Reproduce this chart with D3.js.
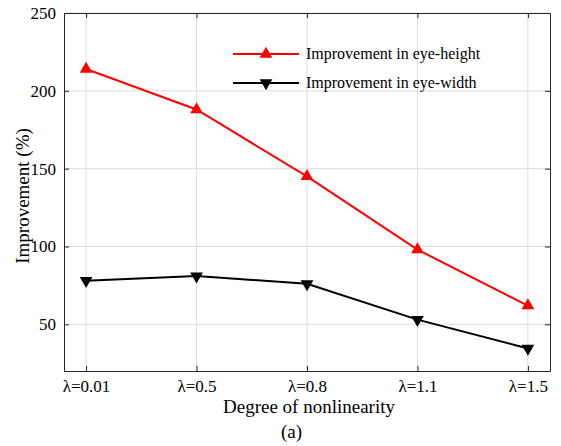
<!DOCTYPE html>
<html lang="en">
<head>
    <meta charset="UTF-8">
    <style>
        html, body { margin:0; height:100%; overflow:hidden; background:#fff; }
        svg { position:absolute; top:0; left:0; }
        text { font-family: "Liberation Serif", "Times New Roman", serif; fill:#000; }
    </style>
    <script src="https://d3js.org/d3.v7.min.js"></script>
</head>
<body>
<svg width="561" height="446"></svg>
<script>
    // chart values
    var categories = ["λ=0.01", "λ=0.5", "λ=0.8", "λ=1.1", "λ=1.5"];
    var eyeHeight = [214, 188, 145, 98, 62];
    var eyeWidth = [78, 81, 76, 53, 34.5];
    var yTicks = [50, 100, 150, 200, 250];
    var seriesNames = ["Improvement in eye-height", "Improvement in eye-width"];

    var svg = d3.select("svg");
    var margin = {top: 13, right: 11, bottom: 75, left: 64};
    var width = 561 - margin.left - margin.right;
    var height = 446 - margin.top - margin.bottom;

    var g = svg.append("g")
        .attr("transform", "translate(" + margin.left + "," + margin.top + ")");

    var x = d3.scalePoint().domain(categories).range([0, width]).padding(0.2);
    var y = d3.scaleLinear().domain([20, 250]).range([height, 0]);

    // grid
    g.append("g").selectAll("line").data(categories).enter().append("line")
        .attr("x1", function(d) { return x(d); }).attr("x2", function(d) { return x(d); })
        .attr("y1", 0).attr("y2", height)
        .attr("stroke", "#dcdcdc").attr("stroke-width", 1);
    g.append("g").selectAll("line").data(yTicks).enter().append("line")
        .attr("x1", 0).attr("x2", width)
        .attr("y1", function(d) { return y(d); }).attr("y2", function(d) { return y(d); })
        .attr("stroke", "#dcdcdc").attr("stroke-width", 1);

    // axes (inward ticks, boxed)
    function styleAxis(sel) {
        sel.attr("font-family", null);
        sel.select(".domain").attr("stroke", "#262626");
        sel.selectAll(".tick line").attr("stroke", "#262626");
        sel.selectAll("text").style("font-size", "17px").attr("fill", "#000");
    }

    g.append("g").attr("transform", "translate(0," + height + ")")
        .call(d3.axisBottom(x).tickSizeInner(-5).tickSizeOuter(0).tickPadding(9))
        .call(styleAxis);
    g.append("g")
        .call(d3.axisLeft(y).tickValues(yTicks).tickSizeInner(-5).tickSizeOuter(0).tickPadding(8))
        .call(styleAxis);
    g.append("g")
        .call(d3.axisTop(x).tickSizeInner(-5).tickSizeOuter(0).tickFormat(""))
        .call(styleAxis);
    g.append("g").attr("transform", "translate(" + width + ",0)")
        .call(d3.axisRight(y).tickValues(yTicks).tickSizeInner(-5).tickSizeOuter(0).tickFormat(""))
        .call(styleAxis);

    var line = d3.line()
        .x(function(d, i) { return x(categories[i]); })
        .y(function(d) { return y(d); });

    var up = d3.symbol().type(d3.symbolTriangle).size(70);

    function drawSeries(values, color, rot) {
        g.append("path").datum(values)
            .attr("fill", "none").attr("stroke", color).attr("stroke-width", 2)
            .attr("d", line);
        g.selectAll(null).data(values).enter().append("path")
            .attr("d", up)
            .attr("fill", color)
            .attr("transform", function(d, i) {
                return "translate(" + x(categories[i]) + "," + y(d) + ") rotate(" + rot + ")";
            });
    }

    drawSeries(eyeHeight, "#ff0000", 0);
    drawSeries(eyeWidth, "#000000", 180);

    // legend
    var legend = g.append("g").attr("transform", "translate(169,41)");
    var legendColors = ["#ff0000", "#000000"];
    seriesNames.forEach(function(name, i) {
        var row = legend.append("g").attr("transform", "translate(0," + (i * 29) + ")");
        row.append("line").attr("x1", 0).attr("x2", 66).attr("y1", 0).attr("y2", 0)
            .attr("stroke", legendColors[i]).attr("stroke-width", 2);
        row.append("path").attr("d", up).attr("fill", legendColors[i])
            .attr("transform", "translate(33,0) rotate(" + (i === 0 ? 0 : 180) + ")");
        row.append("text").attr("x", 73).attr("y", 5)
            .style("font-size", "16px").text(name);
    });

    // axis titles
    svg.append("text")
        .attr("x", 309).attr("y", 413)
        .attr("text-anchor", "middle").style("font-size", "19px")
        .text("Degree of nonlinearity");
    svg.append("text")
        .attr("x", 291.5).attr("y", 438)
        .attr("text-anchor", "middle").style("font-size", "19px")
        .text("(a)");
    svg.append("text")
        .attr("transform", "translate(29,196) rotate(-90)")
        .attr("text-anchor", "middle").style("font-size", "19px")
        .text("Improvement (%)");
</script>
</body>
</html>
